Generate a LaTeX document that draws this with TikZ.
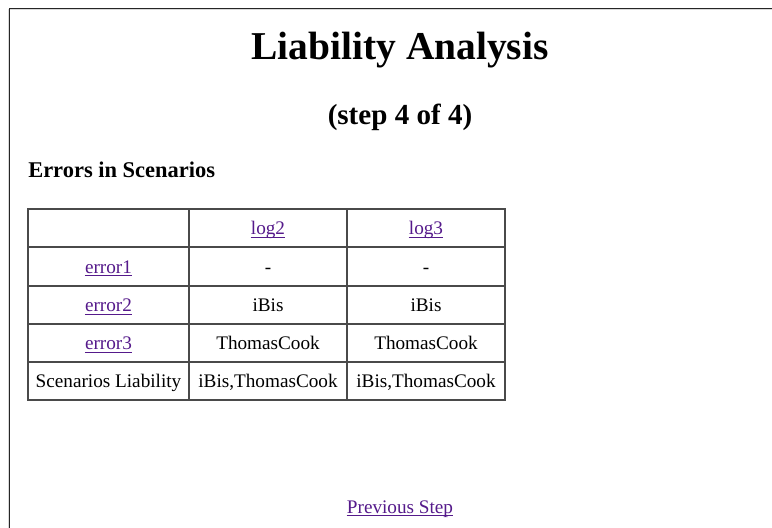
\documentclass[tikz,border=0pt]{standalone}
\usepackage{fontspec}
\setmainfont{Liberation Serif}
\definecolor{linkc}{HTML}{551A8B}
\definecolor{gridc}{HTML}{4A4A4A}
\definecolor{framec}{HTML}{262626}
\tikzset{
  celltext/.style={anchor=base, inner sep=0pt, font=\fontsize{14.4pt}{17pt}\selectfont, text=black},
  linktext/.style={celltext, text=linkc},
  uline/.style={draw=linkc, line width=0.8pt},
  grid/.style={draw=gridc, line width=1.6pt},
}
\newcommand\linknode[3]{%
  \node[linktext] (#1) at #2 {#3};
  \draw[uline] ([yshift=-2pt]#1.base west) -- ([yshift=-2pt]#1.base east);
}
\begin{document}
\begin{tikzpicture}[x=0.75pt,y=-0.75pt]
\useasboundingbox (0,0) rectangle (772,528);
\fill[white] (0,0) rectangle (772,528);
% page frame
\draw[draw=black!15, line width=0.75pt] (8.5,528) -- (8.5,9.5) -- (772,9.5);
\draw[draw=framec, line width=0.9pt] (9.6,528) -- (9.6,8.6) -- (772,8.6);

% headings
\node[anchor=base, inner sep=0pt, font=\fontsize{29.6pt}{32pt}\selectfont\bfseries] (title) at (400,60) {Liability Analysis};
\node[anchor=base, inner sep=0pt, font=\fontsize{21.8pt}{24pt}\selectfont\bfseries] (step) at (400,125) {(step 4 of 4)};
\node[anchor=base west, inner sep=0pt, font=\fontsize{16.85pt}{19pt}\selectfont\bfseries] (errs) at (28,177) {Errors in Scenarios};

% table grid
\draw[grid] (28,209) rectangle (505,400);
\draw[grid] (189,209) -- (189,400);
\draw[grid] (347,209) -- (347,400);
\foreach \yy in {247,286,324,362} \draw[grid] (28,\yy) -- (505,\yy);

% header row
\linknode{log2}{(268,234.5)}{log2}
\linknode{log3}{(426,234.5)}{log3}
% row error1
\linknode{e1}{(108.5,273)}{error1}
\node[celltext] (e1a) at (268,273) {-};
\node[celltext] (e1b) at (426,273) {-};
% row error2
\linknode{e2}{(108.5,311.5)}{error2}
\node[celltext] (e2a) at (268,311.5) {iBis};
\node[celltext] (e2b) at (426,311.5) {iBis};
% row error3
\linknode{e3}{(108.5,349.5)}{error3}
\node[celltext] (e3a) at (268,349.5) {ThomasCook};
\node[celltext] (e3b) at (426,349.5) {ThomasCook};
% summary row
\node[celltext] (sl) at (108.5,387.5) {Scenarios Liability};
\node[celltext] (sla) at (268,387.5) {iBis,ThomasCook};
\node[celltext] (slb) at (426,387.5) {iBis,ThomasCook};

% footer link
\linknode{prev}{(400,513)}{Previous Step}
\end{tikzpicture}
\end{document}
